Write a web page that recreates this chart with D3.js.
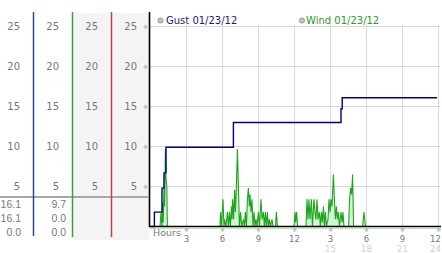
<!DOCTYPE html>
<html><head><meta charset="utf-8">
<script src="https://cdn.jsdelivr.net/npm/d3@7"></script>
<style>html,body{margin:0;padding:0;background:#fff;overflow:hidden}svg{display:block;font-family:"DejaVu Sans",Verdana,sans-serif}</style>
</head><body><svg id="c" width="442" height="253"></svg>
<script>
// ---- data ----
const yTicks = [5, 10, 15, 20, 25];
const xTickHours = [3, 6, 9, 12, 15, 18, 21, 24];
const xTickLabels = ["3", "6", "9", "12", "3", "6", "9", "12"];
const xTickLabels24 = ["", "", "", "", "15", "18", "21", "24"];
const readoutGust = ["16.1", "16.1", "0.0"];
const readoutWind = ["9.7", "0.0", "0.0"];
const legendLabels = ["Gust 01/23/12", "Wind 01/23/12"];
const axisTitle = "Hours";

const gustMinutes = [0, 15, 22, 60, 70, 80, 417, 955, 961, 1435];
const gustSpeeds  = [0, 0, 1.8, 4.8, 6.7, 9.9, 13.0, 14.7, 16.1, 16.1];

const windMinutes = [0, 50, 55, 60, 63, 66, 70, 73, 77, 80, 84, 87,
  350, 353, 358, 365, 370, 373, 380, 387, 392, 397, 402, 407, 410, 413, 418, 423, 427, 432, 437, 442, 447,
  453, 458, 467, 472, 477, 482, 487, 492, 497, 500, 505, 510, 515, 520, 525, 530, 535, 542, 547, 555, 560,
  567, 572, 577, 582, 587, 592, 597, 602, 610, 615, 627, 632, 637,
  720, 725, 728, 733, 738, 780, 785, 790, 795, 800, 807, 812, 820, 825, 830, 835, 840, 847, 852, 857, 862,
  867, 872, 877, 882, 890, 895, 900, 905, 910, 917, 922, 927, 932, 937, 942, 947, 955, 960, 965, 970,
  993, 998, 1003, 1008, 1013, 1018, 1063, 1070, 1077, 1440];
const windSpeeds = [0, 0, 1.7, 0, 3.0, 0.5, 5.0, 2.5, 9.7, 6.0, 5.0, 0,
  0, 1.8, 0, 3.4, 0, 0.9, 0, 1.8, 0, 1.8, 0, 2.5, 0.9, 3.4, 0.9, 4.6, 1.8, 5.0, 9.7, 5.0, 0,
  1.8, 0, 0.9, 0, 1.8, 0, 3.4, 4.8, 2.5, 4.0, 1.8, 3.4, 0, 1.8, 0, 0.9, 0, 1.8, 0, 3.4, 0.9,
  1.8, 0, 1.8, 0, 1.8, 0, 0.9, 0, 0.9, 0, 0, 1.8, 0,
  0, 1.8, 0.5, 1.8, 0, 0, 3.4, 0.9, 3.4, 0.9, 3.4, 0, 3.4, 1.8, 0.9, 3.4, 0.9, 1.8, 0, 1.8, 0.5,
  2.5, 0, 1.8, 0, 0.9, 3.4, 1.8, 3.4, 2.5, 6.5, 3.4, 0.9, 2.5, 0.9, 1.8, 0, 1.8, 0.5, 1.8, 0,
  0, 3.4, 4.8, 4.0, 6.5, 0, 0, 1.8, 0, 0];

// ---- drawing ----
const svg = d3.select("#c");
svg.append("rect").attr("width", 442).attr("height", 253).attr("fill", "#fff");

const x = d3.scaleLinear().domain([0, 1440]).range([150, 438]);
const y = d3.scaleLinear().domain([0, 25]).range([226.5, 26.5]);
const labelGrey = "#777";

// left panel backgrounds
svg.append("rect").attr("x", 73).attr("y", 13).attr("width", 76).attr("height", 227).attr("fill", "#f4f4f4");

// left panel separator
svg.append("line").attr("x1", 0).attr("x2", 148).attr("y1", 197).attr("y2", 197)
  .attr("stroke", "#a8a8a8").attr("stroke-width", 2);

// column lines
const colLines = [{x: 33.5, c: "#2a47a6", y2: 236}, {x: 72.5, c: "#35a535", y2: 237}, {x: 111.5, c: "#b84444", y2: 237}];
svg.selectAll(".col").data(colLines).join("line")
  .attr("x1", d => d.x).attr("x2", d => d.x).attr("y1", 12).attr("y2", d => d.y2)
  .attr("stroke", d => d.c).attr("stroke-width", 1.5);

// left panel tick labels (4 columns)
const colEnds = [20, 59, 98, 137];
colEnds.forEach(cx => {
  svg.append("g").selectAll("text").data(yTicks).join("text")
    .attr("x", cx).attr("y", d => y(d) + 3.6)
    .attr("text-anchor", "end").attr("font-size", 10).attr("fill", labelGrey)
    .text(d => d);
});

// readouts
[[readoutGust, 21], [readoutWind, 66]].forEach(([arr, cx]) => {
  svg.append("g").selectAll("text").data(arr).join("text")
    .attr("x", cx).attr("y", (d, i) => 207.5 + i * 14)
    .attr("text-anchor", "end").attr("font-size", 10.5).attr("fill", labelGrey)
    .attr("font-family", "Liberation Sans, Arial, sans-serif")
    .text(d => d);
});

// grid
svg.append("g").selectAll("line").data(yTicks).join("line")
  .attr("x1", 150).attr("x2", 440).attr("y1", d => y(d)).attr("y2", d => y(d))
  .attr("stroke", "#d9d9d9").attr("stroke-width", 1);
svg.append("g").selectAll("line").data(xTickHours).join("line")
  .attr("x1", d => Math.round(x(d * 60)) + 0.5).attr("x2", d => Math.round(x(d * 60)) + 0.5)
  .attr("y1", 25).attr("y2", 226)
  .attr("stroke", "#d9d9d9").attr("stroke-width", 1);

// small tick marks on y axis
svg.append("g").selectAll("text").data(yTicks).join("text")
  .attr("x", 145.5).attr("y", d => y(d) + 2.5).attr("text-anchor", "middle")
  .attr("font-size", 6).attr("fill", "#999").text("※");

// wind area + line
const windData = windMinutes.map((m, i) => [m, windSpeeds[i]]);
svg.append("path").datum(windData)
  .attr("d", d3.area().x(d => x(d[0])).y0(y(0)).y1(d => y(d[1])))
  .attr("fill", "#d2f2d2");
svg.append("path").datum(windData)
  .attr("d", d3.line().x(d => x(d[0])).y(d => y(d[1])))
  .attr("fill", "none").attr("stroke", "#1da61d").attr("stroke-width", 1.1);

// gust line
const gustData = gustMinutes.map((m, i) => [m, gustSpeeds[i]]);
svg.append("path").datum(gustData)
  .attr("d", d3.line().x(d => x(d[0])).y(d => y(d[1])).curve(d3.curveStepAfter))
  .attr("fill", "none").attr("stroke", "#000080").attr("stroke-width", 1.4);

// baseline + axes
svg.append("line").attr("x1", 150).attr("x2", 441).attr("y1", 228.5).attr("y2", 228.5)
  .attr("stroke", "#b8eab8").attr("stroke-width", 1);
svg.append("line").attr("x1", 149).attr("x2", 441).attr("y1", 226.5).attr("y2", 226.5)
  .attr("stroke", "#000").attr("stroke-width", 1.5);
svg.append("line").attr("x1", 149.5).attr("x2", 149.5).attr("y1", 12).attr("y2", 227)
  .attr("stroke", "#000").attr("stroke-width", 1.6);

// x labels
svg.append("text").attr("x", 153).attr("y", 235.5).attr("font-size", 9.5)
  .attr("fill", labelGrey).text(axisTitle);
const xl = svg.append("g");
xl.selectAll(".m").data(xTickHours).join("text")
  .attr("x", d => x(d * 60) + 0.5).attr("y", 232).attr("text-anchor", "middle")
  .attr("font-size", 6).attr("fill", "#999").text("※");
xl.selectAll(".l").data(xTickHours).join("text")
  .attr("x", d => Math.min(x(d * 60) + 0.5, 435.5)).attr("y", 241.5).attr("text-anchor", "middle")
  .attr("font-size", 8.5).attr("fill", labelGrey).text((d, i) => xTickLabels[i]);
xl.selectAll(".f").data(xTickHours).join("text")
  .attr("x", d => Math.min(x(d * 60) + 0.5, 435.5)).attr("y", 251.5).attr("text-anchor", "middle")
  .attr("font-size", 8.5).attr("fill", "#d0d0d0").text((d, i) => xTickLabels24[i]);

// legend
const legendPos = [{cx: 160.5, tx: 166, c: "#1a1a80"}, {cx: 302, tx: 306, c: "#2a9a2a"}];
legendPos.forEach((p, i) => {
  svg.append("circle").attr("cx", p.cx).attr("cy", 20.5).attr("r", 2.6)
    .attr("fill", "#c4c4c4").attr("stroke", "#8c8c8c").attr("stroke-width", 0.8);
  svg.append("text").attr("x", p.tx).attr("y", 24).attr("font-size", 10)
    .attr("fill", p.c).text(legendLabels[i]);
});
</script></body></html>
